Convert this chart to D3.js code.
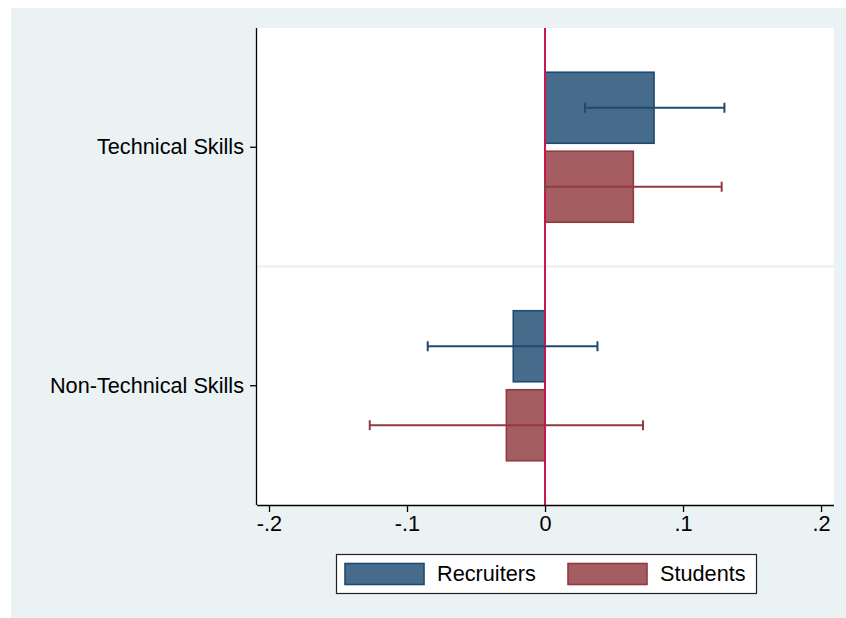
<!DOCTYPE html>
<html>
<head>
<meta charset="utf-8">
<script src="https://cdn.jsdelivr.net/npm/d3@7"></script>
<style>
  html, body { margin: 0; padding: 0; background: #ffffff; }
  svg { display: block; font-family: "Liberation Sans", Arial, sans-serif; }
</style>
</head>
<body>
<svg id="chart" width="846" height="618"></svg>
<script>
// Skill categories and the two groups compared
const categories = ["Technical Skills", "Non-Technical Skills"];
const groups = ["Recruiters", "Students"];

// Point estimates per category (same order as categories)
const recruitersValues = [0.079, -0.023];
const studentsValues = [0.064, -0.028];

// Confidence interval bounds per category
const recruitersLow = [0.029, -0.085];
const recruitersHigh = [0.130, 0.038];
const studentsLow = [0.000, -0.127];
const studentsHigh = [0.128, 0.071];

// X axis ticks and labels
const xTicks = [-0.2, -0.1, 0, 0.1, 0.2];
const xTickLabels = ["-.2", "-.1", "0", ".1", ".2"];

const seriesData = [
  { name: groups[0], values: recruitersValues, low: recruitersLow, high: recruitersHigh,
    fill: "#476b8b", stroke: "#1f4a70" },
  { name: groups[1], values: studentsValues, low: studentsLow, high: studentsHigh,
    fill: "#a45d60", stroke: "#913a40" }
];

const FONT_SIZE = 21.7;
const svg = d3.select("#chart");

// Outer graph region
svg.append("rect").attr("x", 11).attr("y", 8).attr("width", 835).attr("height", 610)
  .attr("fill", "#eaf2f3");

const plot = { left: 257, right: 834, top: 28, bottom: 505 };

svg.append("rect")
  .attr("x", plot.left).attr("y", plot.top)
  .attr("width", plot.right - plot.left).attr("height", plot.bottom - plot.top)
  .attr("fill", "#ffffff");

const x = d3.scaleLinear().domain([-0.2087, 0.2094]).range([plot.left, plot.right]);

const yCat = d3.scaleBand().domain(categories).range([plot.top, plot.bottom]);
const ySub = d3.scaleBand().domain(groups).range([0, yCat.bandwidth()])
  .paddingInner(0.101).paddingOuter(0.56);

// Separator between the categories
categories.slice(1).forEach(c => {
  svg.append("line")
    .attr("x1", plot.left).attr("x2", plot.right)
    .attr("y1", yCat(c)).attr("y2", yCat(c))
    .attr("stroke", "#e6eff1").attr("stroke-width", 2);
});

// Bars
seriesData.forEach(s => {
  const g = svg.append("g");
  g.selectAll("rect").data(categories).join("rect")
    .attr("x", (c, i) => x(Math.min(0, s.values[i])))
    .attr("y", c => yCat(c) + ySub(s.name))
    .attr("width", (c, i) => Math.abs(x(s.values[i]) - x(0)))
    .attr("height", ySub.bandwidth())
    .attr("fill", s.fill).attr("stroke", s.stroke).attr("stroke-width", 1.6);
});

// Zero reference line
svg.append("line")
  .attr("x1", x(0)).attr("x2", x(0))
  .attr("y1", plot.top).attr("y2", plot.bottom)
  .attr("stroke", "#c8174a").attr("stroke-width", 2);

// Confidence intervals
seriesData.forEach(s => {
  const g = svg.append("g").attr("stroke", s.stroke).attr("stroke-width", 2);
  categories.forEach((c, i) => {
    const yc = yCat(c) + ySub(s.name) + ySub.bandwidth() / 2;
    g.append("line").attr("x1", x(s.low[i])).attr("x2", x(s.high[i]))
      .attr("y1", yc).attr("y2", yc);
    [s.low[i], s.high[i]].forEach(v => {
      g.append("line").attr("x1", x(v)).attr("x2", x(v))
        .attr("y1", yc - 5).attr("y2", yc + 5);
    });
  });
});

// X axis
const xAxis = d3.axisBottom(x).tickValues(xTicks)
  .tickFormat((d, i) => xTickLabels[i]).tickSize(7).tickPadding(4);
const gx = svg.append("g").attr("transform", `translate(0,${plot.bottom})`).call(xAxis);
gx.select(".domain").attr("d", `M${plot.left},0.5H${plot.right}`).attr("stroke", "#000").attr("stroke-width", 1.3);
gx.selectAll(".tick line").attr("stroke", "#000").attr("stroke-width", 1.3);
gx.selectAll(".tick text").attr("fill", "#000").attr("font-size", FONT_SIZE)
  .attr("font-family", "'Liberation Sans', Arial, sans-serif");

// Y axis
const yAxis = d3.axisLeft(yCat).tickSize(7).tickPadding(6);
const gy = svg.append("g").attr("transform", `translate(${plot.left},0)`).call(yAxis);
gy.select(".domain").attr("d", `M-0.5,${plot.top}V${plot.bottom}`).attr("stroke", "#000").attr("stroke-width", 1.3);
gy.selectAll(".tick line").attr("stroke", "#000").attr("stroke-width", 1.3);
gy.selectAll(".tick text").attr("fill", "#000").attr("font-size", FONT_SIZE)
  .attr("font-family", "'Liberation Sans', Arial, sans-serif");

// Legend
const legend = svg.append("g");
legend.append("rect").attr("x", 336.5).attr("y", 554.5).attr("width", 420).attr("height", 39)
  .attr("fill", "#ffffff").attr("stroke", "#222").attr("stroke-width", 1.2);
const legendX = [345, 568];
seriesData.forEach((s, i) => {
  legend.append("rect").attr("x", legendX[i]).attr("y", 563.5).attr("width", 79).attr("height", 21)
    .attr("fill", s.fill).attr("stroke", s.stroke).attr("stroke-width", 1.6);
  legend.append("text").attr("x", legendX[i] + 92).attr("y", 581)
    .attr("font-size", FONT_SIZE).attr("fill", "#000").text(s.name);
});
</script>
</body>
</html>
